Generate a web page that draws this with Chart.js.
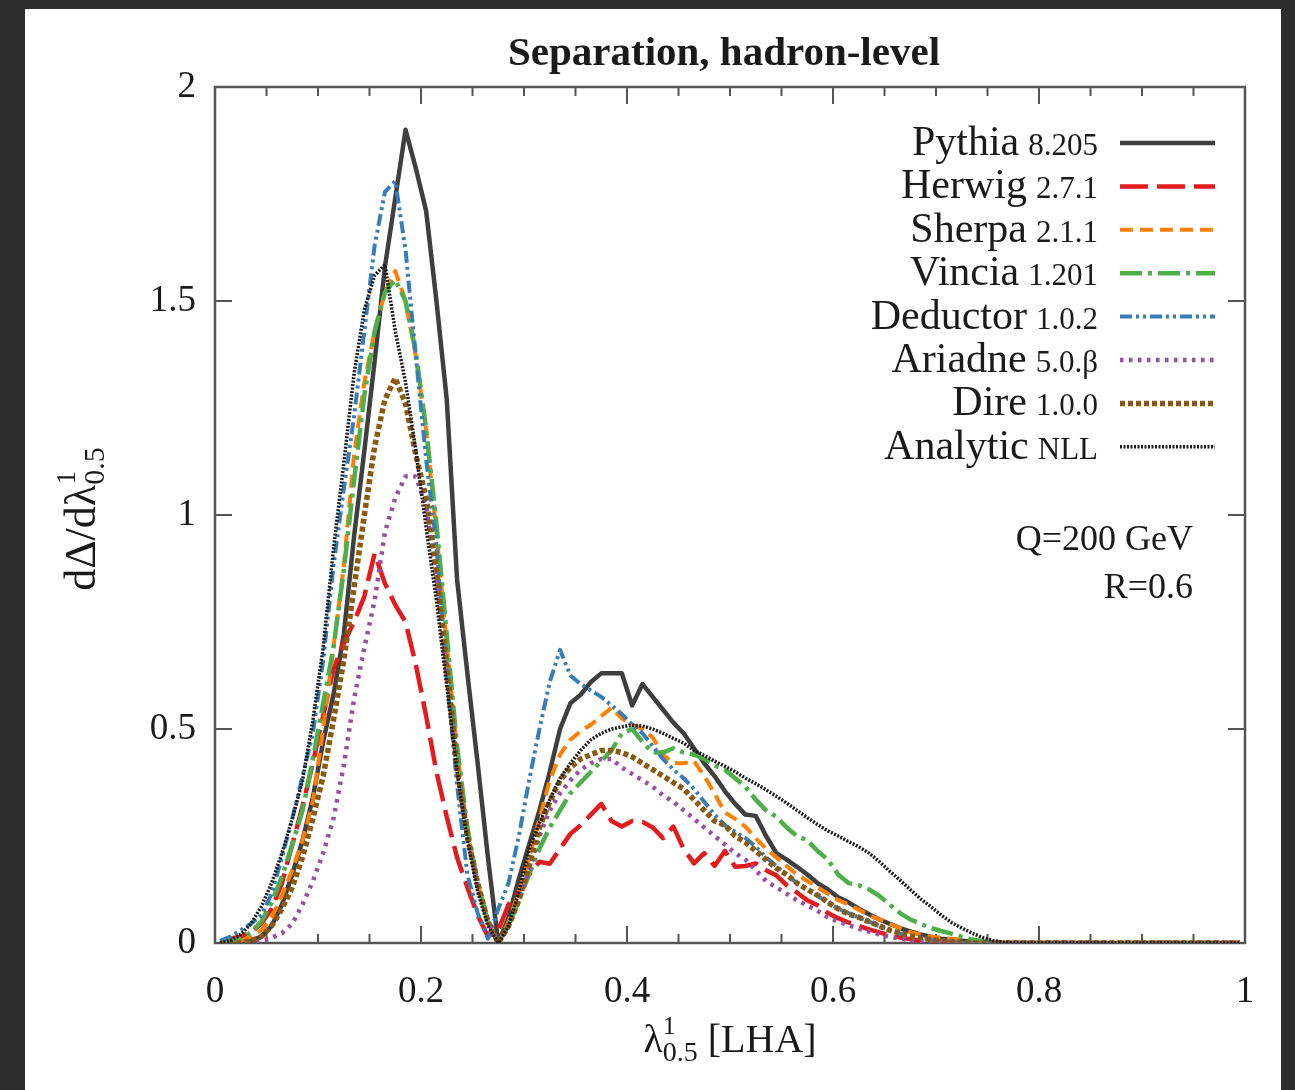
<!DOCTYPE html>
<html>
<head>
<meta charset="utf-8">
<script src="https://cdn.jsdelivr.net/npm/chart.js@4.4.1/dist/chart.umd.min.js"></script>
<style>
  html, body { margin: 0; padding: 0; width: 1295px; height: 1090px; overflow: hidden; background: #2e2e2e; }
  #panel { position: absolute; left: 25px; top: 9px; width: 1256px; height: 1081px; background: #fff; }
</style>
</head>
<body>
<div id="panel"><canvas id="myChart"></canvas></div>
<script>
// lambda^1_0.5 bin centres
const xs = [
  0.005, 0.015, 0.025, 0.035, 0.045, 0.055, 0.065, 0.075, 0.085, 0.095,
  0.105, 0.115, 0.125, 0.135, 0.145, 0.155, 0.165, 0.175, 0.185, 0.195,
  0.205, 0.215, 0.225, 0.235, 0.245, 0.255, 0.265, 0.275, 0.285, 0.295,
  0.305, 0.315, 0.325, 0.335, 0.345, 0.355, 0.365, 0.375, 0.385, 0.395,
  0.405, 0.415, 0.425, 0.435, 0.445, 0.455, 0.465, 0.475, 0.485, 0.495,
  0.505, 0.515, 0.525, 0.535, 0.545, 0.555, 0.565, 0.575, 0.585, 0.595,
  0.605, 0.615, 0.625, 0.635, 0.645, 0.655, 0.665, 0.675, 0.685, 0.695,
  0.705, 0.715, 0.725, 0.735, 0.745, 0.755, 0.765, 0.775, 0.785, 0.795,
  0.995
]

const pythia = [
  0, 0, 0, 0.005, 0.015, 0.04, 0.09, 0.16, 0.24, 0.34,
  0.47, 0.58, 0.72, 0.95, 1.15, 1.36, 1.58, 1.74, 1.90, 1.81,
  1.71, 1.50, 1.27, 0.85, 0.63, 0.42, 0.2, 0.0, 0.06, 0.15,
  0.23, 0.31, 0.40, 0.50, 0.56, 0.58, 0.61, 0.63, 0.63, 0.63,
  0.555, 0.605, 0.575, 0.545, 0.515, 0.49, 0.455, 0.42, 0.39, 0.355,
  0.325, 0.30, 0.297, 0.25, 0.21, 0.195, 0.178, 0.16, 0.14, 0.125,
  0.107, 0.095, 0.08, 0.067, 0.055, 0.045, 0.035, 0.027, 0.02, 0.015,
  0.01, 0.007, 0.005, 0.003, 0.002, 0, 0, 0, 0, 0,
  0
]

const herwig = [
  0, 0.01, 0.015, 0.025, 0.045, 0.08, 0.14, 0.23, 0.32, 0.42,
  0.53, 0.64, 0.70, 0.75, 0.81, 0.91, 0.84, 0.79, 0.75, 0.65,
  0.53, 0.40, 0.295, 0.2, 0.13, 0.065, 0.015, 0.03, 0.09, 0.12,
  0.16, 0.19, 0.185, 0.22, 0.255, 0.275, 0.3, 0.325, 0.285, 0.272,
  0.285, 0.283, 0.27, 0.245, 0.272, 0.22, 0.186, 0.21, 0.18, 0.215,
  0.178, 0.18, 0.186, 0.17, 0.158, 0.135, 0.118, 0.1, 0.088, 0.07,
  0.058, 0.048, 0.04, 0.032, 0.025, 0.018, 0.013, 0.009, 0.006, 0.004,
  0.002, 0, 0, 0, 0, 0, 0, 0, 0, 0,
  0
]

const sherpa = [
  0, 0, 0.005, 0.015, 0.03, 0.06, 0.11, 0.17, 0.24, 0.33,
  0.5, 0.69, 0.88, 1.14, 1.31, 1.43, 1.52, 1.57, 1.50, 1.37,
  1.2, 0.96, 0.70, 0.45, 0.26, 0.14, 0.05, 0.0, 0.05, 0.12,
  0.2, 0.29, 0.38, 0.44, 0.475, 0.495, 0.51, 0.53, 0.55, 0.525,
  0.51, 0.5, 0.48, 0.44, 0.42, 0.42, 0.425, 0.39, 0.35, 0.305,
  0.29, 0.272, 0.245, 0.22, 0.2, 0.18, 0.16, 0.145, 0.13, 0.115,
  0.1, 0.09, 0.078, 0.065, 0.055, 0.045, 0.035, 0.025, 0.02, 0.015,
  0.012, 0.01, 0.008, 0.005, 0.003, 0, 0, 0, 0, 0,
  0
]

const vincia = [
  0, 0.005, 0.01, 0.025, 0.05, 0.095, 0.155, 0.23, 0.31, 0.43,
  0.56, 0.69, 0.87, 1.08, 1.28, 1.43, 1.52, 1.55, 1.50, 1.38,
  1.2, 0.98, 0.72, 0.46, 0.27, 0.14, 0.05, 0.0, 0.04, 0.1,
  0.16, 0.22, 0.27, 0.31, 0.35, 0.375, 0.40, 0.425, 0.45, 0.49,
  0.50, 0.47, 0.445, 0.445, 0.455, 0.445, 0.44, 0.43, 0.415, 0.405,
  0.385, 0.365, 0.335, 0.31, 0.295, 0.27, 0.25, 0.24, 0.215, 0.195,
  0.16, 0.14, 0.135, 0.125, 0.11, 0.09, 0.07, 0.055, 0.045, 0.035,
  0.028, 0.022, 0.014, 0.008, 0.004, 0, 0, 0, 0, 0,
  0
]

const deductor = [
  0.005, 0.015, 0.03, 0.045, 0.065, 0.115, 0.2, 0.29, 0.39, 0.49,
  0.66, 0.88, 1.06, 1.23, 1.43, 1.63, 1.755, 1.78, 1.62, 1.37,
  1.13, 0.93, 0.62, 0.37, 0.16, 0.07, 0.01, 0.08, 0.14, 0.25,
  0.38, 0.5, 0.61, 0.685, 0.625, 0.605, 0.59, 0.575, 0.555, 0.535,
  0.51, 0.49, 0.46, 0.43, 0.405, 0.385, 0.36, 0.33, 0.3, 0.275,
  0.26, 0.245, 0.225, 0.2, 0.18, 0.16, 0.14, 0.125, 0.11, 0.095,
  0.08, 0.07, 0.06, 0.05, 0.04, 0.03, 0.022, 0.016, 0.012, 0.008,
  0.005, 0.003, 0, 0, 0, 0, 0, 0, 0, 0,
  0
]

const ariadne = [
  0, 0, 0, 0, 0.005, 0.012, 0.023, 0.045, 0.09, 0.145,
  0.21, 0.29, 0.415, 0.57, 0.69, 0.8, 0.96, 1.04, 1.09, 1.09,
  1.02, 0.85, 0.63, 0.41, 0.25, 0.13, 0.05, 0.0, 0.04, 0.1,
  0.17, 0.25, 0.31, 0.35, 0.38, 0.405, 0.42, 0.43, 0.43, 0.41,
  0.395, 0.38, 0.365, 0.345, 0.33, 0.31, 0.29, 0.27, 0.25, 0.23,
  0.21, 0.195, 0.17, 0.145, 0.13, 0.115, 0.1, 0.088, 0.075, 0.06,
  0.05, 0.042, 0.033, 0.027, 0.02, 0.015, 0.01, 0.007, 0.004, 0.002,
  0, 0, 0, 0, 0, 0, 0, 0, 0, 0,
  0
]

const dire = [
  0, 0, 0, 0.005, 0.015, 0.04, 0.08, 0.13, 0.2, 0.29,
  0.39, 0.52, 0.66, 0.83, 1.0, 1.16, 1.27, 1.32, 1.26, 1.14,
  1.04, 0.87, 0.65, 0.41, 0.25, 0.14, 0.05, 0.0, 0.04, 0.1,
  0.18, 0.27, 0.33, 0.38, 0.41, 0.43, 0.44, 0.45, 0.45, 0.445,
  0.435, 0.42, 0.405, 0.39, 0.375, 0.36, 0.335, 0.31, 0.285, 0.275,
  0.25, 0.235, 0.215, 0.195, 0.175, 0.16, 0.14, 0.125, 0.112, 0.095,
  0.08, 0.068, 0.06, 0.05, 0.04, 0.03, 0.023, 0.017, 0.012, 0.008,
  0.005, 0.003, 0.002, 0, 0, 0, 0, 0, 0, 0,
  0
]

const analytic = [
  0, 0.005, 0.02, 0.045, 0.085, 0.14, 0.21, 0.29, 0.38, 0.52,
  0.69, 0.92, 1.12, 1.33, 1.48, 1.56, 1.585, 1.43, 1.31, 1.15,
  0.97, 0.8, 0.6, 0.4, 0.24, 0.12, 0.04, 0.0, 0.04, 0.12,
  0.22, 0.28, 0.335, 0.385, 0.42, 0.45, 0.475, 0.49, 0.5, 0.505,
  0.509, 0.507, 0.5, 0.49, 0.478, 0.467, 0.45, 0.438, 0.425, 0.413,
  0.4, 0.385, 0.372, 0.358, 0.343, 0.327, 0.31, 0.293, 0.277, 0.262,
  0.25, 0.237, 0.225, 0.21, 0.19, 0.168, 0.147, 0.125, 0.103, 0.085,
  0.065, 0.048, 0.035, 0.023, 0.013, 0.006, 0.002, 0, 0, 0,
  0
]

const names = ['Pythia', 'Herwig', 'Sherpa', 'Vincia', 'Deductor', 'Ariadne', 'Dire', 'Analytic']
const versions = ['8.205', '2.7.1', '2.1.1', '1.201', '1.0.2', '5.0.\u03b2', '1.0.0', 'NLL']
const values = [pythia, herwig, sherpa, vincia, deductor, ariadne, dire, analytic]

const styles = [
  { color: '#3f3f3f', width: 4.5, dash: [] },
  { color: '#e41a1c', width: 4.5, dash: [28, 9] },
  { color: '#ff7f00', width: 4, dash: [13, 7] },
  { color: '#4daf4a', width: 4.5, dash: [22, 6, 4, 6] },
  { color: '#377eb8', width: 4, dash: [12, 4, 3, 4, 3, 4] },
  { color: '#984ea3', width: 4.5, dash: [3.5, 5.5] },
  { color: '#8b5a12', width: 5.5, dash: [5, 3] },
  { color: '#1a1a1a', width: 3.5, dash: [2, 1.5] }
]

const serif = "'Liberation Serif', 'DejaVu Serif', serif"
const ink = '#1a1a1a'

const datasets = values.map((ys, i) => ({
  label: names[i] + ' ' + versions[i],
  data: ys.map((y, j) => ({ x: xs[j], y: y })),
  borderColor: styles[i].color,
  borderWidth: styles[i].width,
  borderDash: styles[i].dash,
  borderJoinStyle: 'round',
  pointRadius: 0,
  tension: 0,
  fill: false,
  order: values.length - i
}))

// draw pieces of text (sub/superscripts) one after another
function rich (ctx, parts, x, y, align) {
  let total = 0
  for (const p of parts) {
    ctx.font = p.font
    p.w = ctx.measureText(p.t).width
    if (!p.keep) total += p.w
  }
  let cx = align === 'center' ? x - total / 2 : x
  ctx.textAlign = 'left'
  ctx.textBaseline = 'alphabetic'
  for (const p of parts) {
    ctx.font = p.font
    ctx.fillText(p.t, cx, y + (p.dy || 0))
    if (!p.keep) cx += p.w
  }
}

const frame = {
  id: 'frame',
  beforeDatasetsDraw (chart) {
    const { ctx, chartArea: a, scales: { x, y } } = chart
    ctx.save()
    ctx.strokeStyle = '#555'
    ctx.lineWidth = 2
    ctx.beginPath()
    for (let k = 0; k <= 20; k++) {
      const px = x.getPixelForValue(k * 0.05)
      const len = k % 4 === 0 ? 17 : 9
      ctx.moveTo(px, a.bottom); ctx.lineTo(px, a.bottom - len)
      ctx.moveTo(px, a.top); ctx.lineTo(px, a.top + len)
    }
    for (let k = 0; k <= 4; k++) {
      const py = y.getPixelForValue(k * 0.5)
      ctx.moveTo(a.left, py); ctx.lineTo(a.left + 17, py)
      ctx.moveTo(a.right, py); ctx.lineTo(a.right - 17, py)
    }
    ctx.stroke()
    ctx.lineWidth = 2.5
    ctx.strokeRect(a.left, a.top, a.right - a.left, a.bottom - a.top)
    ctx.restore()
  }
}

const texts = {
  id: 'texts',
  afterDraw (chart) {
    const { ctx } = chart
    ctx.save()
    ctx.fillStyle = ink

    // title
    ctx.font = 'bold 41px ' + serif
    ctx.textAlign = 'center'
    ctx.textBaseline = 'alphabetic'
    ctx.fillText('Separation, hadron-level', 699, 56)

    // x axis title
    rich(ctx, [
      { t: '\u03bb', font: '40px ' + serif },
      { t: '1', font: '26px ' + serif, dy: -18, keep: true },
      { t: '0.5', font: '28px ' + serif, dy: 9 },
      { t: ' [LHA]', font: '40px ' + serif }
    ], 705, 1043, 'center')

    // y axis title
    ctx.save()
    ctx.translate(70, 510)
    ctx.rotate(-Math.PI / 2)
    rich(ctx, [
      { t: 'd\u0394/d\u03bb', font: '44px ' + serif },
      { t: '1', font: '28px ' + serif, dy: -20, keep: true },
      { t: '0.5', font: '30px ' + serif, dy: 9 }
    ], 0, 0, 'center')
    ctx.restore()

    // legend
    for (let i = 0; i < names.length; i++) {
      const rowY = 134 + 43.4 * i
      ctx.textAlign = 'right'
      ctx.font = '31px ' + serif
      ctx.fillText(versions[i], 1073, rowY + 12)
      const vw = ctx.measureText(versions[i]).width
      ctx.font = '42px ' + serif
      ctx.fillText(names[i], 1073 - vw - 9, rowY + 12)
      ctx.save()
      ctx.strokeStyle = styles[i].color
      ctx.lineWidth = styles[i].width
      ctx.setLineDash(styles[i].dash)
      ctx.beginPath()
      ctx.moveTo(1095, rowY)
      ctx.lineTo(1190, rowY)
      ctx.stroke()
      ctx.restore()
    }

    // annotations
    ctx.textAlign = 'right'
    ctx.font = '36px ' + serif
    ctx.fillText('Q=200 GeV', 1168, 541)
    ctx.fillText('R=0.6', 1168, 589)
    ctx.restore()
  }
}

const fmt = (v) => String(Number(v.toFixed(2)))

new Chart(document.getElementById('myChart'), {
  type: 'line',
  data: { datasets: datasets },
  options: {
    responsive: true,
    maintainAspectRatio: false,
    animation: false,
    layout: { padding: { top: 78, right: 36, left: 0, bottom: 0 } },
    plugins: { legend: { display: false }, tooltip: { enabled: false }, title: { display: false } },
    scales: {
      x: {
        type: 'linear',
        min: 0,
        max: 1,
        grid: { display: false, drawTicks: false },
        border: { display: false },
        ticks: { stepSize: 0.2, padding: 27, maxRotation: 0, color: ink, font: { family: serif, size: 37 }, callback: fmt },
        afterFit: (s) => { s.height = 147; s.paddingLeft = 0; s.paddingRight = 0 }
      },
      y: {
        min: 0,
        max: 2,
        grid: { display: false, drawTicks: false },
        border: { display: false },
        ticks: { stepSize: 0.5, padding: 19, color: ink, font: { family: serif, size: 37 }, callback: fmt },
        afterFit: (s) => { s.width = 190; s.paddingTop = 0; s.paddingBottom = 0 }
      }
    }
  },
  plugins: [frame, texts]
})
</script>
</body>
</html>
